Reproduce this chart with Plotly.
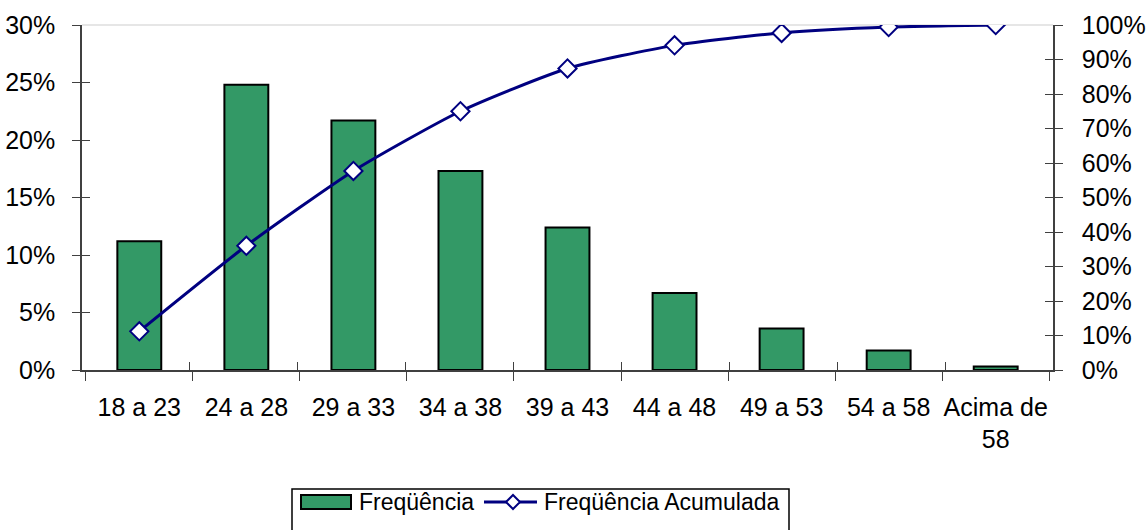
import plotly.graph_objects as go

categories = ["18 a 23", "24 a 28", "29 a 33", "34 a 38", "39 a 43",
              "44 a 48", "49 a 53", "54 a 58", "Acima de<br>58"]
frequencia = [0.112, 0.248, 0.217, 0.173, 0.124, 0.067, 0.036, 0.017, 0.003]
acumulada = [0.112, 0.36, 0.577, 0.75, 0.874, 0.941, 0.977, 0.994, 1.0]
legend_names = ["Freqüência", "Freqüência Acumulada"]

FONT = "Liberation Sans, Arial, sans-serif"
AXC = "#404040"
GREEN = "#339966"
NAVY = "#000080"

W, H = 1146, 530
L, R, T, B = 82, 1053, 25, 370


def px(x):
    return (x - L) / (R - L)


def py(y):
    return (B - y) / (B - T)


fig = go.Figure()
fig.add_trace(go.Bar(
    x=categories, y=frequencia, name=legend_names[0],
    marker=dict(color=GREEN, line=dict(color="black", width=2)),
    width=0.41, yaxis="y", showlegend=False,
))
fig.add_trace(go.Scatter(
    x=categories, y=acumulada, name=legend_names[1],
    mode="lines+markers", yaxis="y2", showlegend=False,
    line=dict(color=NAVY, width=3, shape="spline", smoothing=0.6),
    marker=dict(symbol="diamond", size=14, color="white",
                line=dict(color=NAVY, width=2)),
))
# empty helper traces so the inner-tick overlay axes get drawn
fig.add_trace(go.Scatter(x=[None], y=[None], xaxis="x2", yaxis="y3",
                         showlegend=False, hoverinfo="skip"))
fig.add_trace(go.Scatter(x=[None], y=[None], xaxis="x2", yaxis="y4",
                         showlegend=False, hoverinfo="skip"))

n = len(categories)
inner_tick = dict(ticks="inside", ticklen=8, tickcolor=AXC, tickwidth=1,
                  showticklabels=False, showline=False, showgrid=False,
                  zeroline=False, automargin=False, fixedrange=True)

fig.update_layout(
    width=W, height=H,
    margin=dict(l=L, r=W - R, t=T, b=H - B),
    paper_bgcolor="white", plot_bgcolor="white",
    font=dict(family=FONT, size=25, color="black"),
    xaxis=dict(
        type="category", tickson="boundaries", ticks="outside", ticklen=9,
        tickcolor=AXC, showline=True, linecolor=AXC, linewidth=1.5,
        showgrid=False, ticklabelstandoff=14, tickangle=0, automargin=False,
        tickfont=dict(size=25),
    ),
    yaxis=dict(
        range=[0, 0.3], dtick=0.05, tickformat=".0%", ticks="outside",
        ticklen=8, tickcolor=AXC, showline=True, linecolor=AXC, linewidth=1.5,
        showgrid=False, zeroline=False, ticklabelstandoff=12, automargin=False,
        tickfont=dict(size=25),
    ),
    yaxis2=dict(
        range=[0, 1.0], dtick=0.1, tickformat=".0%", ticks="outside",
        ticklen=8, tickcolor=AXC, showline=True, linecolor=AXC, linewidth=1.5,
        showgrid=False, zeroline=False, overlaying="y", side="right",
        ticklabelstandoff=14, automargin=False, tickfont=dict(size=25),
    ),
    xaxis2=dict(overlaying="x", side="bottom", anchor="y3",
                range=[-0.5, n - 0.5], tick0=-0.5, dtick=1, **inner_tick),
    yaxis3=dict(overlaying="y", side="left", anchor="x2",
                range=[0, 0.3], dtick=0.05, **inner_tick),
    yaxis4=dict(overlaying="y", side="right", anchor="x2",
                range=[0, 1.0], dtick=0.1, **inner_tick),
    showlegend=False,
)

# top border line of plot area
fig.add_shape(type="line", xref="paper", yref="paper", x0=0, x1=1, y0=1, y1=1,
              line=dict(color="#e6e6e6", width=2), layer="below")

# custom legend
shapes = [
    dict(type="rect", x0=px(292), x1=px(789), y0=py(489), y1=py(545),
         line=dict(color="black", width=1.5), fillcolor="white"),
    dict(type="rect", x0=px(301), x1=px(351), y0=py(495), y1=py(509),
         line=dict(color="black", width=2), fillcolor=GREEN),
    dict(type="line", x0=px(484), x1=px(537), y0=py(502), y1=py(502),
         line=dict(color=NAVY, width=3)),
    dict(type="path",
         path="M {a},{c} L {b},{d} L {e},{c} L {b},{f} Z".format(
             a=px(506), b=px(513), e=px(520), c=py(502), d=py(495), f=py(509)),
         line=dict(color=NAVY, width=2), fillcolor="white"),
]
for s in shapes:
    fig.add_shape(xref="paper", yref="paper", layer="above", **s)

fig.add_annotation(x=px(357), y=py(502), xref="paper", yref="paper",
                   text=legend_names[0], showarrow=False, xanchor="left",
                   yanchor="middle", font=dict(size=23))
fig.add_annotation(x=px(542), y=py(502), xref="paper", yref="paper",
                   text=legend_names[1], showarrow=False, xanchor="left",
                   yanchor="middle", font=dict(size=23))

fig.write_html("out.html", config={"displayModeBar": False},
               post_script="document.body.style.margin='0';"
                           "document.body.style.overflow='hidden';")
